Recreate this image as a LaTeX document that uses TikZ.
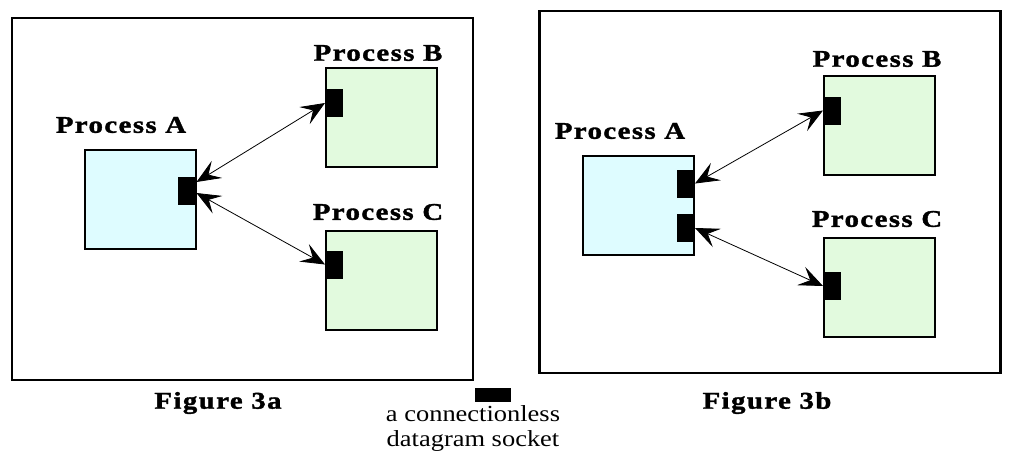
\documentclass[tikz,border=0pt]{standalone}
\usepackage{fontspec}
\setmainfont{Liberation Serif}
\newfontfamily\lblfont{Liberation Serif}[FakeStretch=1.2, LetterSpace=6, FakeBold=1.5]
\newfontfamily\legfont{Liberation Serif}[FakeStretch=1.15]
\usetikzlibrary{arrows.meta,positioning}
\definecolor{procblue}{RGB}{222,252,255}
\definecolor{procgreen}{RGB}{226,250,222}
\tikzset{
  frame/.style={rectangle, draw, line width=2.4pt, minimum width=461pt, minimum height=362pt, inner sep=0pt},
  proc/.style={rectangle, draw, line width=2pt, minimum width=111pt, minimum height=99pt, inner sep=0pt},
  sock/.style={rectangle, fill=black, minimum width=18pt, minimum height=28pt, inner sep=0pt},
  plabel/.style={inner sep=0pt, font=\lblfont\bfseries\fontsize{24}{28}\selectfont},
  link/.style={line width=0.8pt, {Stealth[length=24pt,width=20pt,inset=10pt]}-{Stealth[length=24pt,width=20pt,inset=10pt]}}
}

\begin{document}
\begin{tikzpicture}[x=1pt, y=-1pt]
      \useasboundingbox (0,0) rectangle (1011,460);

      \node[frame] at (242.5,199) (fa) {};
      \node[frame] at (770,192) (fb) {};

      \node[proc, fill=procblue] at (140,199) (pa) {};
      \node[plabel] at (121,125) (la) {Process A};
      \node[proc, fill=procgreen] at (381.5,117.5) (pb) {};
      \node[plabel] at (378,53) (lb) {Process B};
      \node[proc, fill=procgreen] at (381.5,280) (pc) {};
      \node[plabel] at (378,212) (lc) {Process C};

      \node[sock, anchor=east] at ([yshift=8pt] pa.east) (sa) {};
      \node[sock, anchor=west] at (pb.west |- 0,103) (sb) {};
      \node[sock, anchor=west] at (pc.west |- 0,264.5) (sc) {};

      \draw[link] ([yshift=9pt] sa.east) to (sb.west);
      \draw[link] ([yshift=-2pt] sa.east) to (sc.west);

      \node[plabel] at (218,403) (capa) {Figure 3a};

      \node[proc, fill=procblue] at (638.5,205.5) (qa) {};
      \node[plabel] at (620,131) (ma) {Process A};
      \node[proc, fill=procgreen] at (879.5,125) (qb) {};
      \node[plabel] at (877,59) (mb) {Process B};
      \node[proc, fill=procgreen] at (879.5,287) (qc) {};
      \node[plabel] at (877,219) (mc) {Process C};

      \node[sock, anchor=east] at (qa.east |- 0,183.5) (ta) {};
      \node[sock, anchor=east] at (qa.east |- 0,228) (tb) {};
      \node[sock, anchor=west] at (qb.west |- 0,110.5) (tc) {};
      \node[sock, anchor=west] at (qc.west |- 0,286) (td) {};

      \draw[link] (ta.east) to (tc.west);
      \draw[link] (tb.east) to (td.west);

      \node[plabel] at (767,403) (capb) {Figure 3b};

      \node[rectangle, fill=black, minimum width=36pt, minimum height=14pt, inner sep=0pt] at (493,395) (key) {};
      \node[inner sep=0pt, align=center, font=\legfont\fontsize{23}{25}\selectfont, anchor=north] at (473,405) (keytext) {a connectionless\\datagram socket};
    \end{tikzpicture}
\end{document}
